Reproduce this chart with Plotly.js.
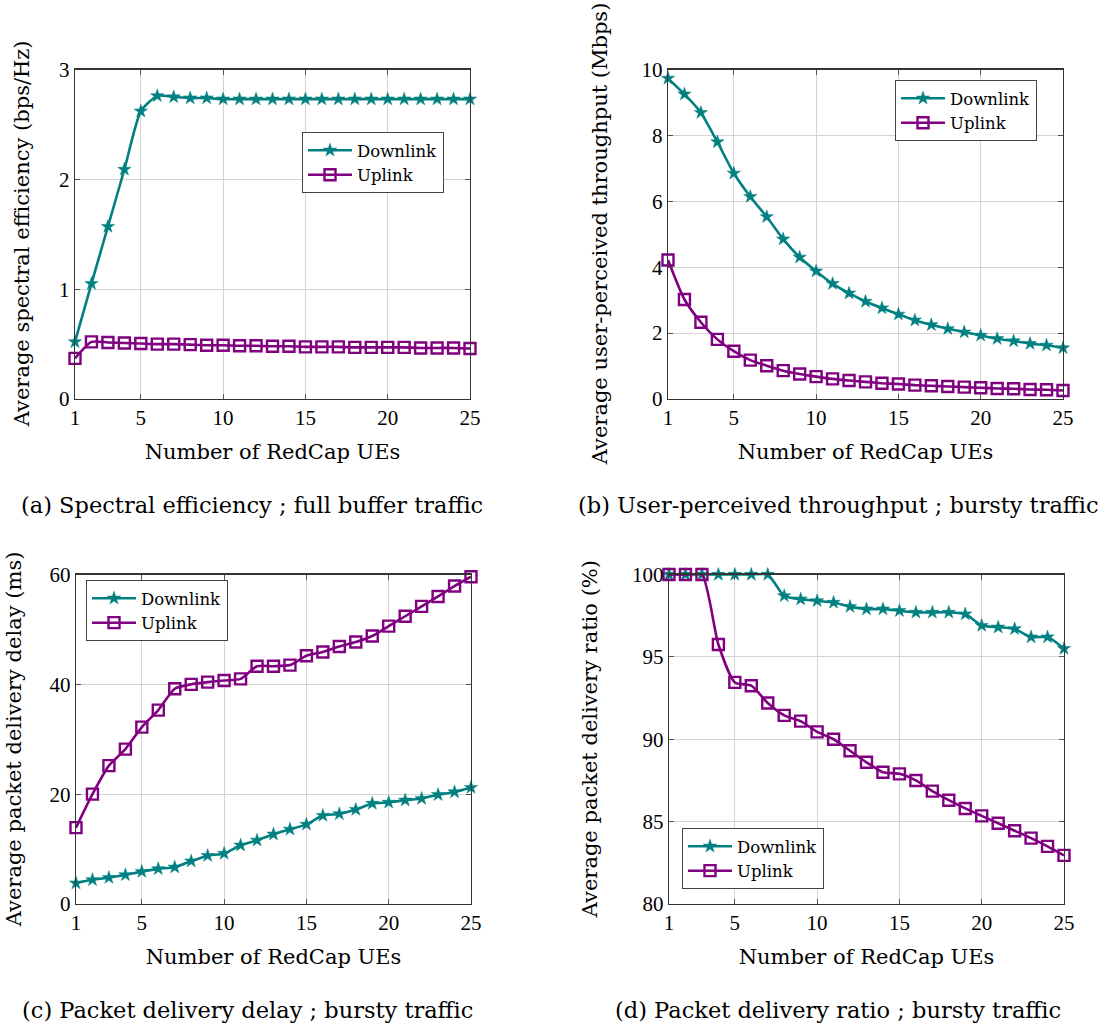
<!DOCTYPE html>
<html>
<head>
<meta charset="utf-8">
<script src="https://cdn.plot.ly/plotly-3.0.1.min.js"></script>
<style>html,body{margin:0;padding:0;background:#fff;}#chart{width:1111px;height:1027px;}</style>
</head>
<body>
<div id="chart"></div>
<script>
const ues = [1,2,3,4,5,6,7,8,9,10,11,12,13,14,15,16,17,18,19,20,21,22,23,24,25];
const xTicks = [1,5,10,15,20,25];

const seDownlink = [0.52,1.05,1.57,2.09,2.62,2.76,2.75,2.74,2.74,2.73,2.73,2.73,2.73,2.73,2.73,2.73,2.73,2.73,2.73,2.73,2.73,2.73,2.73,2.73,2.73];
const seUplink = [0.37,0.52,0.515,0.51,0.505,0.50,0.50,0.495,0.49,0.49,0.485,0.485,0.48,0.48,0.475,0.475,0.475,0.47,0.47,0.47,0.47,0.465,0.465,0.465,0.46];

const tpDownlink = [9.73,9.25,8.69,7.80,6.85,6.14,5.53,4.85,4.30,3.88,3.50,3.21,2.96,2.76,2.57,2.39,2.25,2.13,2.03,1.93,1.83,1.76,1.68,1.63,1.55];
const tpUplink = [4.22,3.02,2.33,1.81,1.45,1.18,1.01,0.86,0.76,0.68,0.61,0.56,0.52,0.48,0.455,0.42,0.40,0.38,0.36,0.34,0.32,0.31,0.29,0.28,0.26];

const delayDownlink = [3.8,4.4,4.8,5.3,5.9,6.4,6.7,7.8,8.8,9.2,10.7,11.6,12.7,13.6,14.5,16.1,16.4,17.2,18.3,18.5,18.9,19.2,19.9,20.4,21.2];
const delayUplink = [13.9,20.0,25.2,28.2,32.2,35.3,39.2,40.0,40.4,40.7,41.0,43.3,43.3,43.5,45.2,45.9,46.9,47.7,48.8,50.6,52.4,54.2,56.0,57.9,59.6];

const pdrDownlink = [100,100,100,100,100,100,100,98.7,98.5,98.4,98.3,98.05,97.9,97.9,97.8,97.7,97.7,97.7,97.6,96.9,96.8,96.7,96.2,96.2,95.5];
const pdrUplink = [100,100,100,95.75,93.45,93.25,92.2,91.45,91.1,90.45,90.0,89.3,88.6,88.0,87.9,87.5,86.85,86.3,85.8,85.35,84.9,84.45,84.0,83.5,82.95];

const panels = [
  {dl: seDownlink, ul: seUplink, yRange:[0,3], yTicks:[0,1,2,3], yTitle:'Average spectral efficiency (bps/Hz)', caption:'(a) Spectral efficiency ; full buffer traffic'},
  {dl: tpDownlink, ul: tpUplink, yRange:[0,10], yTicks:[0,2,4,6,8,10], yTitle:'Average user-perceived throughput (Mbps)', caption:'(b) User-perceived throughput ; bursty traffic'},
  {dl: delayDownlink, ul: delayUplink, yRange:[0,60], yTicks:[0,20,40,60], yTitle:'Average packet delivery delay (ms)', caption:'(c) Packet delivery delay ; bursty traffic'},
  {dl: pdrDownlink, ul: pdrUplink, yRange:[80,100], yTicks:[80,85,90,95,100], yTitle:'Average packet delivery ratio (%)', caption:'(d) Packet delivery ratio ; bursty traffic'}
];

const W = 1111, H = 1027;
// pixel boxes [left, right, top, bottom]
const boxes = [[75,470,69.5,399],[668,1063,69.5,399],[76,471,574.5,904],[669,1064,574.5,904]];
const legendPos = [[302,132],[895,80],[86,580],[682,828]];
const captionPos = [[252,505],[838,505],[247,1010],[838,1010]];
const yTitleX = [22,600,14,590];

const TEAL = '#008080', PURPLE = '#800080';
const TFONT = 'DejaVu Serif, serif';
const NFONT = 'Liberation Serif, serif';

const traces = [];
const layout = {
  width: W, height: H,
  margin: {l:0, r:0, t:0, b:0},
  paper_bgcolor: '#fff', plot_bgcolor: '#fff',
  font: {family: TFONT, color: '#000', size: 18},
  showlegend: true,
  annotations: []
};

panels.forEach((p, i) => {
  const n = i + 1;
  const xa = 'x' + (n === 1 ? '' : n), ya = 'y' + (n === 1 ? '' : n);
  const lg = 'legend' + (n === 1 ? '' : n);
  const b = boxes[i];
  traces.push({
    x: ues, y: p.dl, name: 'Downlink', xaxis: xa, yaxis: ya, legend: lg,
    type: 'scatter', mode: 'lines+markers', cliponaxis: false,
    line: {color: TEAL, width: 2.6, shape: 'spline', smoothing: 0.6},
    marker: {symbol: 'star', size: 10, color: TEAL, line: {color: TEAL, width: 0.5}}
  });
  traces.push({
    x: ues, y: p.ul, name: 'Uplink', xaxis: xa, yaxis: ya, legend: lg,
    type: 'scatter', mode: 'lines+markers', cliponaxis: false,
    line: {color: PURPLE, width: 2.6, shape: 'spline', smoothing: 0.6},
    marker: {symbol: 'square-open', size: 11, color: PURPLE, line: {color: PURPLE, width: 2.4}}
  });
  const axCommon = {
    showline: true, linecolor: '#333', linewidth: 1.2, mirror: 'ticks',
    ticks: 'inside', ticklen: 5, tickcolor: '#555', tickwidth: 1,
    showgrid: true, gridcolor: '#d4d4d4', gridwidth: 1, zeroline: false,
    tickfont: {family: NFONT, size: 21, color: '#000'}
  };
  layout['xaxis' + (n === 1 ? '' : n)] = Object.assign({}, axCommon, {
    domain: [b[0]/W, b[1]/W], anchor: ya, range: [1, 25],
    tickmode: 'array', tickvals: xTicks, ticktext: xTicks.map(String),
    title: {text: 'Number of RedCap UEs', font: {family: TFONT, size: 21}, standoff: 14}
  });
  layout['yaxis' + (n === 1 ? '' : n)] = Object.assign({}, axCommon, {
    domain: [1 - b[3]/H, 1 - b[2]/H], anchor: xa, range: p.yRange,
    tickmode: 'array', tickvals: p.yTicks, ticktext: p.yTicks.map(String)
  });
  layout.annotations.push({
    text: p.yTitle, xref: 'paper', yref: 'paper', x: yTitleX[i]/W, y: 1 - ((b[2]+b[3])/2)/H,
    xanchor: 'center', yanchor: 'middle', textangle: -90, showarrow: false,
    font: {family: TFONT, size: 21, color: '#000'}
  });
  layout.annotations.push({
    text: p.caption, xref: 'paper', yref: 'paper', x: captionPos[i][0]/W, y: 1 - captionPos[i][1]/H,
    xanchor: 'center', yanchor: 'middle', showarrow: false,
    font: {family: TFONT, size: 22.5, color: '#000'}
  });
  layout[lg] = {
    x: legendPos[i][0]/W, y: 1 - legendPos[i][1]/H, xanchor: 'left', yanchor: 'top',
    bgcolor: '#fff', bordercolor: '#444', borderwidth: 1,
    font: {family: TFONT, size: 16.5, color: '#000'},
    tracegroupgap: 2, itemwidth: 44
  };
});

Plotly.newPlot('chart', traces, layout, {staticPlot: true});
</script>
</body>
</html>
